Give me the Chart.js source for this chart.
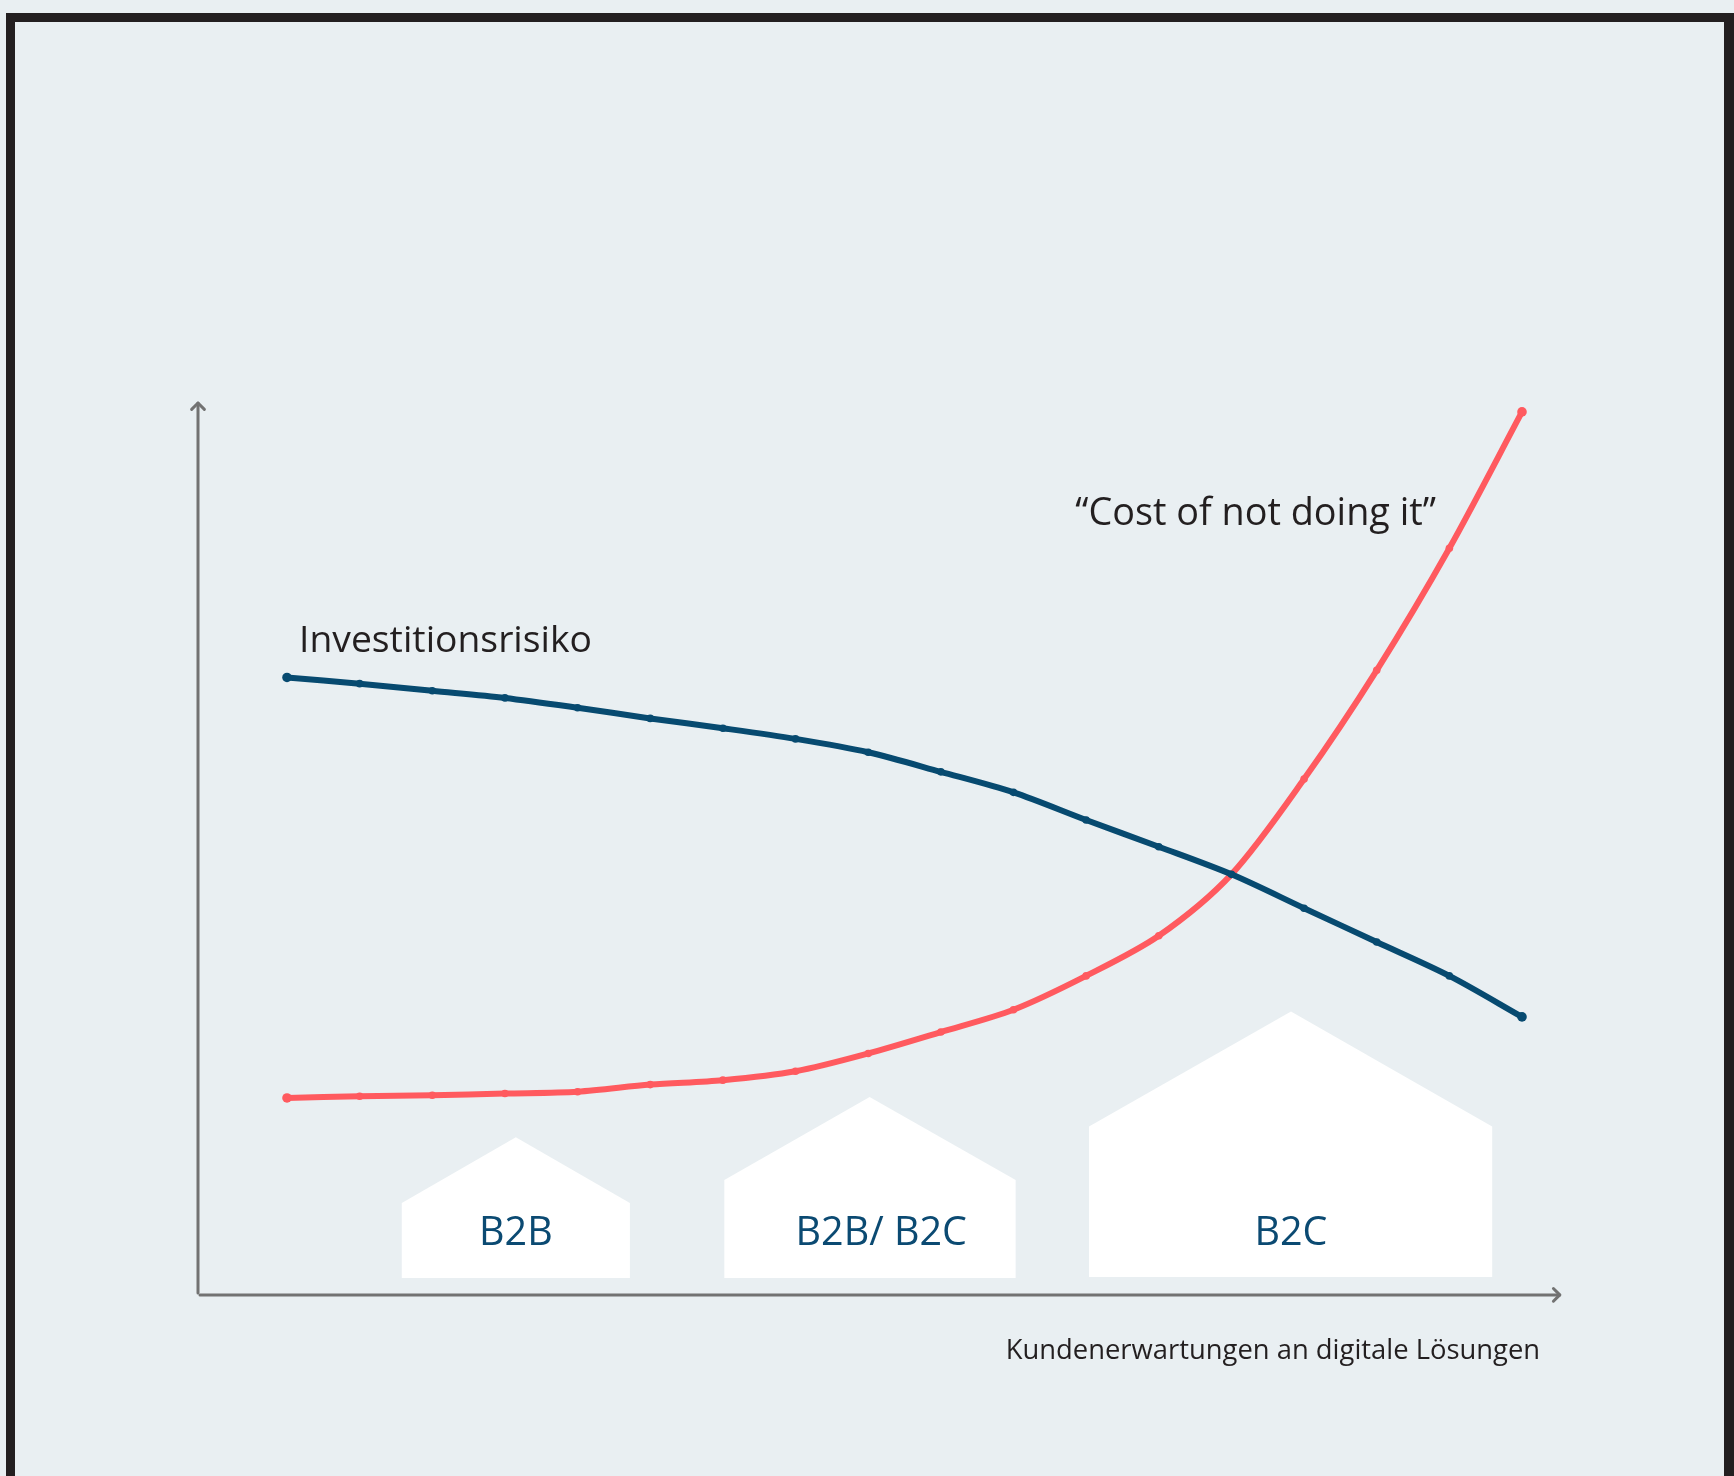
<!DOCTYPE html>
<html>
<head>
<meta charset="utf-8">
<script src="https://cdn.jsdelivr.net/npm/chart.js@4.4.1/dist/chart.umd.min.js"></script>
<style>
  html, body { margin: 0; padding: 0; background: #e9eff2; overflow: hidden; }
  #wrap { width: 1734px; height: 1476px; position: relative; }
</style>
</head>
<body>
<div id="wrap"><canvas id="grafico"></canvas></div>
<script>
// Werte (relativ, 0 = x-Achse, 100 = Spitze der y-Achse)
const stufen = ['1', '2', '3', '4', '5', '6', '7', '8', '9', '10', '11', '12', '13', '14', '15', '16', '17', '18'];
const investitionsrisiko = [69.2, 68.5, 67.7, 66.9, 65.8, 64.6, 63.5, 62.3, 60.8, 58.6, 56.3, 53.2, 50.2, 47.1, 43.3, 39.5, 35.7, 31.1];
const costOfNotDoing = [22.0, 22.2, 22.3, 22.5, 22.7, 23.5, 24.0, 25.0, 27.0, 29.4, 31.9, 35.7, 40.2, 47.1, 57.8, 70.0, 83.7, 99.0];
const segmente = ['B2B', 'B2B/ B2C', 'B2C'];

const BLAU = '#074a70';
const ROT = '#ff5a5f';
const GRAU = '#727272';
const TEXT = '#231f20';

// Haeuser in Achsen-Einheiten (x = Index, y = Wert)
const haeuser = [
    { l: 1.58, r: 4.72, px: 3.15, unten: 1.8, traufe: 10.2, first: 17.6, tx: 3.15 },
    { l: 6.02, r: 10.03, px: 8.02, unten: 1.8, traufe: 12.8, first: 22.1, tx: 8.18 },
    { l: 11.04, r: 16.59, px: 13.82, unten: 1.9, traufe: 18.8, first: 31.7, tx: 13.82 }
];

function pfeil(ctx, x1, y1, x2, y2) {
    const a = Math.atan2(y2 - y1, x2 - x1);
    const k = 9;
    ctx.beginPath();
    ctx.moveTo(x1, y1);
    ctx.lineTo(x2, y2);
    ctx.stroke();
    ctx.beginPath();
    ctx.moveTo(x2 - k * Math.cos(a - Math.PI / 4), y2 - k * Math.sin(a - Math.PI / 4));
    ctx.lineTo(x2, y2);
    ctx.lineTo(x2 - k * Math.cos(a + Math.PI / 4), y2 - k * Math.sin(a + Math.PI / 4));
    ctx.stroke();
}

const deko = {
    id: 'deko',
    beforeDraw(chart) {
        const ctx = chart.ctx;
        const xs = chart.scales.x;
        const ys = chart.scales.y;
        ctx.save();
        ctx.fillStyle = '#e9eff2';
        ctx.fillRect(0, 0, chart.width, chart.height);

        // Rahmen (oben, links, rechts)
        ctx.fillStyle = TEXT;
        ctx.fillRect(6, 13, 1728, 9);
        ctx.fillRect(6, 13, 9, chart.height);
        ctx.fillRect(1724, 13, 10, chart.height);

        // Haeuser
        ctx.fillStyle = '#ffffff';
        haeuser.forEach(h => {
            ctx.beginPath();
            ctx.moveTo(xs.getPixelForValue(h.l), ys.getPixelForValue(h.unten));
            ctx.lineTo(xs.getPixelForValue(h.l), ys.getPixelForValue(h.traufe));
            ctx.lineTo(xs.getPixelForValue(h.px), ys.getPixelForValue(h.first));
            ctx.lineTo(xs.getPixelForValue(h.r), ys.getPixelForValue(h.traufe));
            ctx.lineTo(xs.getPixelForValue(h.r), ys.getPixelForValue(h.unten));
            ctx.closePath();
            ctx.fill();
        });
        ctx.fillStyle = '#0b4a72';
        ctx.font = '39.5px "Open Sans"';
        ctx.textAlign = 'center';
        ctx.textBaseline = 'alphabetic';
        haeuser.forEach((h, i) => {
            ctx.fillText(segmente[i], xs.getPixelForValue(h.tx), ys.getPixelForValue(5.5));
        });

        // Achsen mit Pfeilen
        ctx.strokeStyle = GRAU;
        ctx.lineWidth = 3;
        ctx.lineCap = 'round';
        ctx.lineJoin = 'round';
        const x0 = xs.getPixelForValue(-1.225);
        const y0 = ys.getPixelForValue(-0.1);
        pfeil(ctx, x0, y0 - 2, x0, ys.getPixelForValue(100));
        pfeil(ctx, x0 + 2, y0, xs.getPixelForValue(17.52), y0);
        ctx.restore();
    },
    afterDraw(chart) {
        const ctx = chart.ctx;
        const xs = chart.scales.x;
        const ys = chart.scales.y;
        ctx.save();
        ctx.fillStyle = TEXT;
        ctx.textBaseline = 'alphabetic';
        ctx.textAlign = 'left';
        ctx.font = '37.3px "Open Sans"';
        ctx.fillText('Investitionsrisiko', xs.getPixelForValue(0.165), ys.getPixelForValue(72.05));
        ctx.font = '37.8px "Open Sans"';
        ctx.fillText('\u201CCost of not doing it\u201D', xs.getPixelForValue(10.85), ys.getPixelForValue(86.3));
        ctx.font = '27.4px "Open Sans"';
        ctx.textAlign = 'right';
        ctx.fillText('Kundenerwartungen an digitale Lösungen', xs.getPixelForValue(17.25), ys.getPixelForValue(-7.3));
        ctx.restore();
    }
};

const punktRadius = ctx => (ctx.dataIndex === 0 || ctx.dataIndex === stufen.length - 1) ? 4.8 : 3.8;

new Chart(document.getElementById('grafico'), {
    type: 'line',
    data: {
        labels: stufen,
        datasets: [{
            label: 'Investitionsrisiko',
            data: investitionsrisiko,
            borderColor: BLAU,
            backgroundColor: BLAU,
            borderWidth: 6,
            pointRadius: punktRadius,
            pointBorderWidth: 0,
            tension: 0.3,
            clip: false
        }, {
            label: 'Cost of not doing it',
            data: costOfNotDoing,
            borderColor: ROT,
            backgroundColor: ROT,
            borderWidth: 6,
            pointRadius: punktRadius,
            pointBorderWidth: 0,
            tension: 0.3,
            clip: false
        }]
    },
    options: {
        responsive: true,
        maintainAspectRatio: false,
        devicePixelRatio: 1,
        animation: false,
        layout: { padding: { left: 287, right: 212, top: 403, bottom: 182 } },
        plugins: { legend: { display: false }, tooltip: { enabled: false } },
        scales: {
            x: { display: false, offset: false },
            y: { display: false, min: 0, max: 100 }
        }
    },
    plugins: [deko]
});
</script>
</body>
</html>
